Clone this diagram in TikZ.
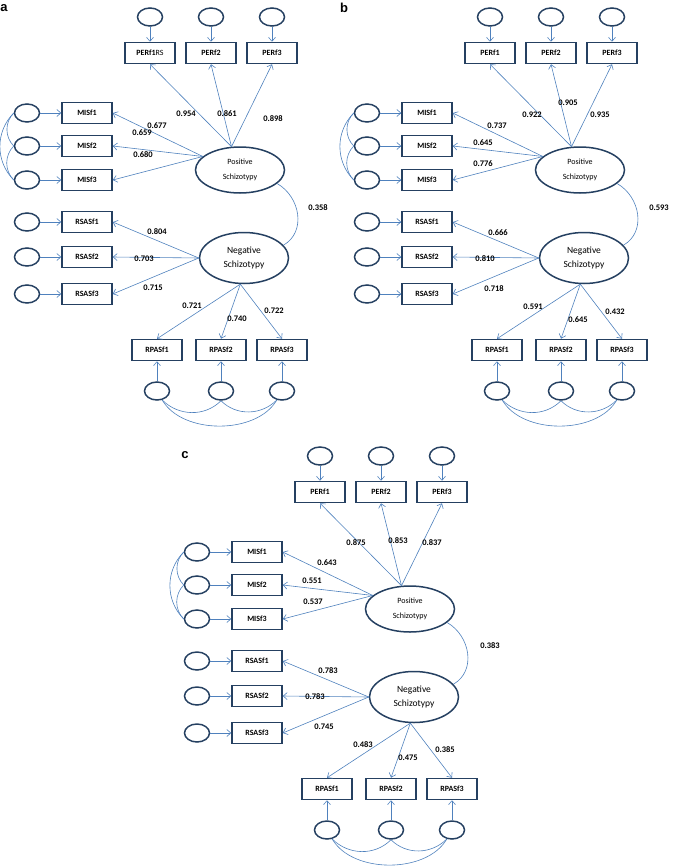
\documentclass[tikz,border=0pt]{standalone}
\usepackage{fontspec}
\setmainfont{Carlito}
\newfontfamily\tagfont{Liberation Sans}
\usetikzlibrary{positioning, arrows.meta, shapes.geometric}
\definecolor{navy}{RGB}{37,64,97}
\definecolor{lineblue}{RGB}{79,129,189}

% one measurement model: latent factors, indicators, error terms
\newcommand{\semmodel}[1]{%
  \node[lat, minimum height=46pt, font=\fontsize{8}{15}\selectfont] (pos) at (240,170) {Positive\\Schizotypy};
  \node[lat, minimum height=51pt, font=\fontsize{9.5}{14}\selectfont] (neg) at (244,258) {Negative\\Schizotypy};
  \draw[corr] (pos.-20) to[out=-30, in=30, looseness=1.1] (neg.18);
  % PERf
  \foreach \i/\x/\t in {1/150/{#1}, 2/211/PERf2, 3/272/PERf3} {
    \node[ind] (per\i) at (\x,53) {\t};
    \node[err, above=15pt of per\i] (eper\i) {};
    \draw[arr] (eper\i) -- (per\i);
    \draw[arr] (pos.110) -- (per\i.south);
  }
  % MISf
  \foreach \i/\y in {1/113, 2/146, 3/180} {
    \node[ind] (mis\i) at (87,\y) {MISf\i};
    \node[err, left=21pt of mis\i] (emis\i) {};
    \draw[arr] (emis\i) -- (mis\i);
    \draw[arr] (pos.160) -- (mis\i.east);
  }
  \draw[corr] (emis1.west) to[out=225, in=135] (emis2.west);
  \draw[corr] (emis2.west) to[out=225, in=135] (emis3.west);
  \draw[corr] (emis1.west) to[out=225, in=135] (emis3.west);
  % RSASf
  \foreach \i/\y in {1/222, 2/257, 3/294} {
    \node[ind] (rsa\i) at (87,\y) {RSASf\i};
    \node[err, left=21pt of rsa\i] (ersa\i) {};
    \draw[arr] (ersa\i) -- (rsa\i);
    \draw[arr] (neg.west) -- (rsa\i.east);
  }
  % RPASf
  \foreach \i/\x in {1/157, 2/221, 3/282} {
    \node[ind] (rpa\i) at (\x,350) {RPASf\i};
    \node[err, below=20pt of rpa\i] (erpa\i) {};
    \draw[arr] (erpa\i) -- (rpa\i);
    \draw[arr] (neg.262) -- (rpa\i.north);
  }
  \draw[corr] (erpa1.-60) to[out=-45, in=-135] (erpa2.south);
  \draw[corr] (erpa2.south) to[out=-45, in=-135] (erpa3.-120);
  \draw[corr] (erpa1.-60) to[out=-60, in=-120, looseness=0.9] (erpa3.-120);
}

\begin{document}
\begin{tikzpicture}[x=1pt, y=-1pt,
  ind/.style={draw=navy, line width=1.5pt, minimum width=50pt, minimum height=21pt, inner sep=0pt, font=\bfseries\fontsize{8}{9}\selectfont},
  err/.style={ellipse, draw=navy, line width=1.5pt, minimum width=25pt, minimum height=18pt, inner sep=0pt},
  lat/.style={ellipse, draw=navy, line width=1.5pt, minimum width=89pt, align=center, inner sep=0pt},
  arr/.style={-{Straight Barb[length=4pt, width=7pt]}, draw=lineblue, line width=0.6pt},
  corr/.style={draw=lineblue, line width=0.6pt},
  val/.style={font=\bfseries\fontsize{8.5}{10}\selectfont, inner sep=0pt},
  tag/.style={font=\tagfont\bfseries\fontsize{13}{13}\selectfont, inner sep=0pt}]

  \useasboundingbox (0,0) rectangle (685,867);

  % panel a
  \begin{scope}
    \semmodel{PERf1\textmd{RS}}
    \node[tag] (taga) at (4,8.5) {a};
    \node[val] (lper1) at (186,114) {0.954};
    \node[val] (lper2) at (227,114) {0.861};
    \node[val] (lper3) at (273,119) {0.898};
    \node[val] (lmis1) at (157,126) {0.677};
    \node[val] (lmis2) at (142,133) {0.659};
    \node[val] (lmis3) at (143,155) {0.680};
    \node[val] (lcorr) at (318,208) {0.358};
    \node[val] (lrsa1) at (157,232) {0.804};
    \node[val] (lrsa2) at (144,259) {0.703};
    \node[val] (lrsa3) at (153,288) {0.715};
    \node[val] (lrpa1) at (192,306) {0.721};
    \node[val] (lrpa2) at (237,319) {0.740};
    \node[val] (lrpa3) at (274,311) {0.722};
  \end{scope}

  % panel b
  \begin{scope}[shift={(340,0)}]
    \semmodel{PERf1}
    \node[tag] (tagb) at (4,8) {b};
    \node[val] (lper1) at (192,115) {0.922};
    \node[val] (lper2) at (228,103) {0.905};
    \node[val] (lper3) at (260,115) {0.935};
    \node[val] (lmis1) at (157,126) {0.737};
    \node[val] (lmis2) at (143,143) {0.645};
    \node[val] (lmis3) at (143,164) {0.776};
    \node[val] (lcorr) at (319,208) {0.593};
    \node[val] (lrsa1) at (158,233) {0.666};
    \node[val] (lrsa2) at (145,259) {0.810};
    \node[val] (lrsa3) at (154,289) {0.718};
    \node[val] (lrpa1) at (193,307) {0.591};
    \node[val] (lrpa2) at (238,320) {0.645};
    \node[val] (lrpa3) at (275,312) {0.432};
  \end{scope}

  % panel c
  \begin{scope}[shift={(170,439)}]
    \semmodel{PERf1}
    \node[tag] (tagc) at (15,16) {c};
    \node[val] (lper1) at (186,104) {0.875};
    \node[val] (lper2) at (228,102) {0.853};
    \node[val] (lper3) at (262,104) {0.837};
    \node[val] (lmis1) at (157,124) {0.643};
    \node[val] (lmis2) at (142,142) {0.551};
    \node[val] (lmis3) at (143,163) {0.537};
    \node[val] (lcorr) at (320,207) {0.383};
    \node[val] (lrsa1) at (158,232) {0.783};
    \node[val] (lrsa2) at (145,258) {0.783};
    \node[val] (lrsa3) at (154,288) {0.745};
    \node[val] (lrpa1) at (193,306) {0.483};
    \node[val] (lrpa2) at (238,319) {0.475};
    \node[val] (lrpa3) at (275,311) {0.385};
  \end{scope}
\end{tikzpicture}
\end{document}
